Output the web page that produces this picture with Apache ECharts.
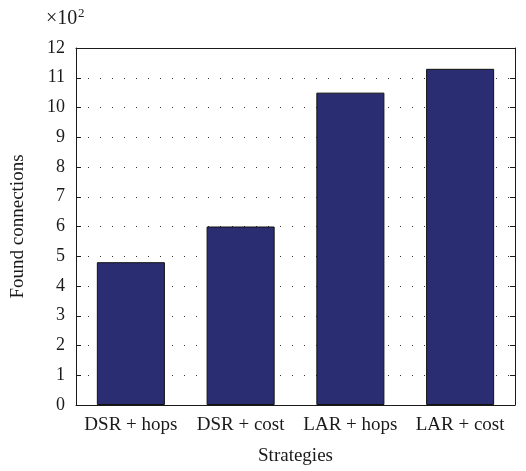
<!DOCTYPE html>
<html>
<head>
<meta charset="utf-8">
<script src="https://cdn.jsdelivr.net/npm/echarts@6/dist/echarts.min.js"></script>
<style>
  html, body { margin: 0; padding: 0; background: #fff; }
  #chart { width: 526px; height: 471px; }
</style>
</head>
<body>
<div id="chart"></div>
<script>
const categories = ['DSR + hops', 'DSR + cost', 'LAR + hops', 'LAR + cost'];
const foundConnections = [4.8, 6.0, 10.5, 11.3]; // in units of 10^2

const chart = echarts.init(document.getElementById('chart'));
const font = 'Liberation Serif';
const ink = '#1a1a1a';

const option = {
  animation: false,
  textStyle: { fontFamily: font },
  grid: { left: 76, right: 11, top: 48, bottom: 66 },
  graphic: [
    { type: 'text', left: 46, top: 9, style: { text: '\u00d710', font: '20px "Liberation Serif"', fill: ink } },
    { type: 'text', left: 78, top: 7, style: { text: '2', font: '13px "Liberation Serif"', fill: ink } }
  ],
  xAxis: [{
    type: 'category',
    data: categories,
    name: 'Strategies',
    nameLocation: 'middle',
    nameGap: 42,
    nameTextStyle: { fontSize: 19, color: ink },
    axisLine: { onZero: false, lineStyle: { color: ink, width: 1 } },
    axisTick: { inside: true, alignWithLabel: true, length: 5, lineStyle: { color: ink } },
    axisLabel: { fontSize: 19, color: ink, margin: 11, interval: 0, hideOverlap: false }
  }, {
    type: 'category',
    data: categories,
    position: 'top',
    axisLine: { onZero: false, lineStyle: { color: ink, width: 1 } },
    axisTick: { inside: true, alignWithLabel: true, length: 5, lineStyle: { color: ink } },
    axisLabel: { show: false }
  }],
  yAxis: [{
    type: 'value',
    min: 0,
    max: 12,
    interval: 1,
    name: 'Found connections',
    nameLocation: 'middle',
    nameGap: 48,
    nameTextStyle: { fontSize: 19, color: ink },
    axisLine: { show: true, onZero: false, lineStyle: { color: ink, width: 1 } },
    axisTick: { show: true, inside: true, length: 5, lineStyle: { color: ink } },
    axisLabel: { fontSize: 18, color: ink, margin: 11 },
    splitLine: { show: true, lineStyle: { color: '#333', width: 1, type: [1, 11] } }
  }, {
    type: 'value',
    min: 0,
    max: 12,
    interval: 1,
    position: 'right',
    axisLine: { show: true, onZero: false, lineStyle: { color: ink, width: 1 } },
    axisTick: { show: true, inside: true, length: 5, lineStyle: { color: ink } },
    axisLabel: { show: false },
    splitLine: { show: false }
  }],
  series: [{
    type: 'bar',
    data: foundConnections,
    barWidth: '62%',
    itemStyle: { color: '#2b2d72', borderColor: '#111', borderWidth: 1 }
  }]
};

chart.setOption(option);
</script>
</body>
</html>
